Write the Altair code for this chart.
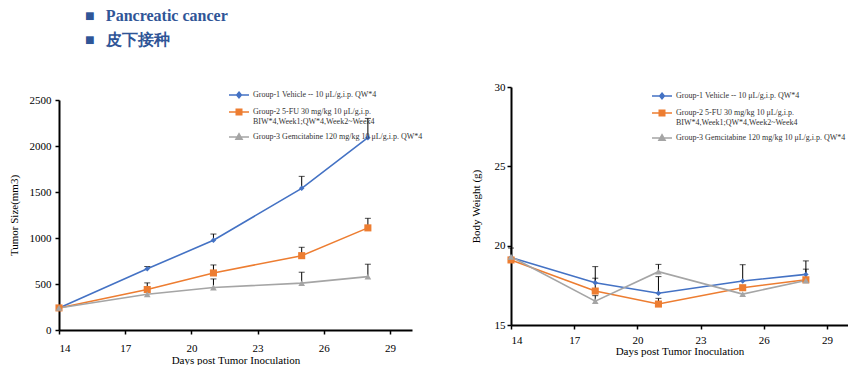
import altair as alt
import pandas as pd

days = [14, 18, 21, 25, 28]
groups = [
    "Group-1 Vehicle -- 10 μL/g,i.p. QW*4",
    "Group-2 5-FU 30 mg/kg 10 μL/g,i.p.|BIW*4,Week1;QW*4,Week2~Week4",
    "Group-3 Gemcitabine 120 mg/kg 10 μL/g,i.p. QW*4",
]
colors = ["#4472C4", "#ED7D31", "#A5A5A5"]
marker_shapes = ["diamond", "square", "triangle-up"]
marker_sizes = [30, 50, 45]
legend_paths = [
    "M-1,0L1,0M0,-0.3L0.24,0L0,0.3L-0.24,0Z",
    "M-1,0L1,0M-0.28,-0.28L0.28,-0.28L0.28,0.28L-0.28,0.28Z",
    "M-1,0L1,0M0,-0.34L0.32,0.24L-0.32,0.24Z",
]

tumor_g1 = [240, 665, 975, 1540, 2090]
tumor_g2 = [240, 440, 620, 808, 1110]
tumor_g3 = [240, 388, 462, 510, 580]
tumor_up_g1 = [None, 690, 1043, 1670, 2300]
tumor_up_g2 = [None, 512, 707, 899, 1214]
tumor_up_g3 = [None, None, 555, 628, 715]

weight_g1 = [19.25, 17.66, 17.0, 17.77, 18.19]
weight_g2 = [19.1, 17.14, 16.32, 17.35, 17.85]
weight_g3 = [19.3, 16.5, 18.36, 16.95, 17.8]
weight_up_g1 = [19.85, 18.68, 18.05, 18.8, 19.04]
weight_up_g2 = [None, 17.95, 16.68, None, 18.52]
weight_up_g3 = [None, 16.85, 18.82, None, None]

x_ticks = [14, 17, 20, 23, 26, 29]
tumor_ticks = [0, 500, 1000, 1500, 2000, 2500]
weight_ticks = [15, 20, 25, 30]

SERIF = "Liberation Serif"


def make_df(series, uppers):
    rows = []
    for g, vals, ups in zip(groups, series, uppers):
        for d, v, u in zip(days, vals, ups):
            rows.append({"Day": d, "Group": g, "Value": v, "Upper": u})
    return pd.DataFrame(rows)


def panel(df, ydomain, yticks, ytitle, w, h, lx, ly, ylabpad, ytitlepad, xlabpad, xtitlepad):
    axis_style = dict(labelFont=SERIF, titleFont=SERIF, labelFontSize=11, titleFontSize=11,
                      titleFontWeight="normal", labelColor="black", titleColor="black",
                      domainColor="black", domainWidth=2, tickColor="black", tickWidth=1.5,
                      tickSize=4, grid=False)
    xenc = alt.X("Day:Q", scale=alt.Scale(domain=[14, 30], nice=False),
                 axis=alt.Axis(values=x_ticks, title="Days post Tumor Inoculation",
                               labelPadding=xlabpad, titlePadding=xtitlepad, **axis_style))
    yscale = alt.Scale(domain=ydomain, nice=False)
    yaxis = alt.Axis(values=yticks, title=ytitle, format="d",
                     labelPadding=ylabpad, titlePadding=ytitlepad, **axis_style)
    base = alt.Chart(df)
    layers = []
    for g, c in zip(groups, colors):
        sub = base.transform_filter(alt.datum.Group == g)
        layers.append(sub.mark_line(color=c, strokeWidth=1.6).encode(
            x=xenc, y=alt.Y("Value:Q", scale=yscale, axis=yaxis)))
    err = base.transform_filter("isValid(datum.Upper)")
    layers.append(err.mark_rule(color="black", strokeWidth=1).encode(
        x="Day:Q", y="Value:Q", y2="Upper:Q"))
    layers.append(err.mark_tick(color="black", orient="horizontal", size=6, thickness=1).encode(
        x="Day:Q", y="Upper:Q"))
    for g, c, shp, sz in zip(groups, colors, marker_shapes, marker_sizes):
        sub = base.transform_filter(alt.datum.Group == g)
        layers.append(sub.mark_point(shape=shp, size=sz, filled=True, color=c, opacity=1).encode(
            x="Day:Q", y="Value:Q"))
    leg = alt.Legend(title=None, orient="none", legendX=lx, legendY=ly,
                     symbolSize=400, symbolStrokeWidth=1.4, rowPadding=-3,
                     labelFont=SERIF, labelFontSize=8, labelColor="#333333",
                     labelOffset=3, labelLimit=400, padding=0,
                     labelExpr="split(datum.label, '|')")
    cs = alt.Scale(domain=groups, range=colors)
    ss = alt.Scale(domain=groups, range=legend_paths)
    layers.append(base.transform_filter("false").mark_point(filled=True, opacity=1).encode(
        x="Day:Q", y="Value:Q",
        color=alt.Color("Group:N", scale=cs, legend=leg),
        stroke=alt.Stroke("Group:N", scale=cs, legend=leg),
        shape=alt.Shape("Group:N", scale=ss, legend=leg)))
    return alt.layer(*layers).properties(width=w, height=h)


left = panel(make_df([tumor_g1, tumor_g2, tumor_g3], [tumor_up_g1, tumor_up_g2, tumor_up_g3]),
             [0, 2500], tumor_ticks, "Tumor Size(mm3)", 353, 230, 169, -3, 4, 10, 8, 1)
right = panel(make_df([weight_g1, weight_g2, weight_g3], [weight_up_g1, weight_up_g2, weight_up_g3]),
              [15, 30], weight_ticks, "Body Weight (g)", 337, 238, 140, -2, 2, 13, 5, 0)

spacer = alt.Chart(pd.DataFrame({"a": []})).mark_point(opacity=0).encode(
    x=alt.value(0), y=alt.value(0)).properties(width=1, height=1)
left_col = alt.vconcat(spacer, left, spacing=6)

chart = alt.hconcat(left_col, right, spacing=47).resolve_scale(
    color="independent", stroke="independent", shape="independent"
).resolve_legend(
    color="independent", stroke="independent", shape="independent"
).properties(
    padding=0,
    title=alt.TitleParams(
        text=["■\u00a0\u00a0\u2009Pancreatic cancer", "■\u00a0\u00a0\u2009皮下接种"],
        anchor="start", dx=77, offset=33,
        font=SERIF,
        fontSize=16, fontWeight="bold", color="#2F5597", lineHeight=24,
    ),
).configure(font=SERIF).configure_view(stroke=None)

chart.save("out.html", embed_options={"renderer": "svg", "actions": False})
